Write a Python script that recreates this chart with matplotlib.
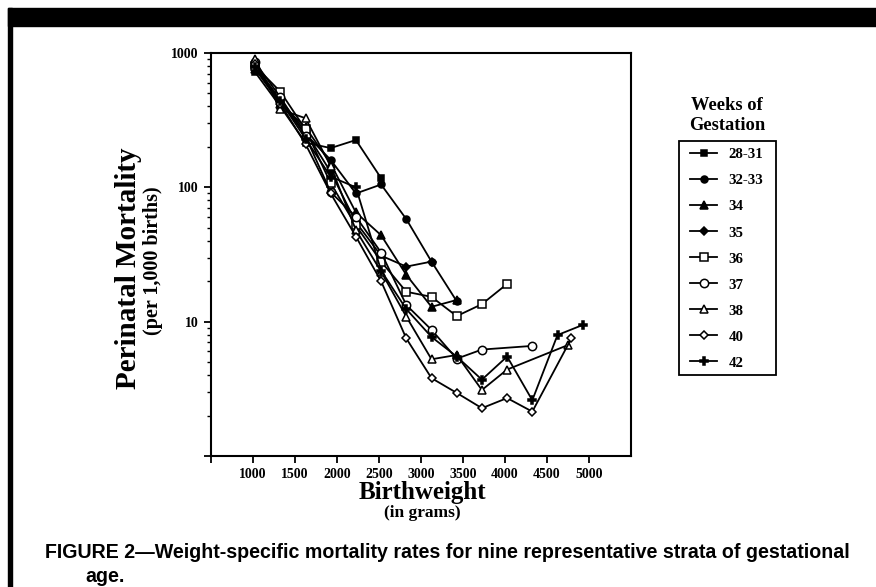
import matplotlib
matplotlib.use("Agg")
import matplotlib.pyplot as plt
from matplotlib.patches import Rectangle
from matplotlib.ticker import FixedLocator, NullFormatter

SERIF = "Liberation Serif"
SANS = "Liberation Sans"

# birthweight (g) and perinatal mortality (per 1,000 births) for each stratum
w_28_31 = [1025, 1325, 1625, 1925, 2225, 2525]
m_28_31 = [720, 400, 215, 196, 225, 117]

w_32_33 = [1025, 1325, 1625, 1925, 2225, 2525, 2825, 3125, 3425]
m_32_33 = [780, 430, 250, 160, 90, 105, 58, 28, 14.2]

w_34 = [1025, 1325, 1625, 1925, 2225, 2525, 2825, 3125, 3425]
m_34 = [760, 420, 280, 150, 65, 44, 22.3, 12.9, 14.5]

w_35 = [1025, 1325, 1625, 1925, 2225, 2525, 2825, 3125]
m_35 = [800, 450, 260, 130, 55, 31, 25.7, 28]

w_36 = [1025, 1325, 1625, 1925, 2225, 2525, 2825, 3125, 3425, 3725, 4025]
m_36 = [800, 516, 270, 107, 52, 28, 16.7, 15.3, 11.0, 13.5, 19.1]

w_37 = [1025, 1325, 1625, 1925, 2225, 2525, 2825, 3125, 3425, 3725, 4325]
m_37 = [850, 470, 240, 92, 60.5, 32.7, 13.3, 8.7, 5.3, 6.2, 6.6]

w_38 = [1025, 1325, 1625, 1925, 2225, 2525, 2825, 3125, 3425, 3725, 4025, 4750]
m_38 = [900, 380, 327, 144, 48, 23.6, 10.9, 5.25, 5.65, 3.1, 4.4, 6.7]

w_40 = [1025, 1325, 1625, 1925, 2225, 2525, 2825, 3125, 3425, 3725, 4025, 4325, 4790]
m_40 = [830, 420, 210, 90, 43, 20, 7.5, 3.8, 2.95, 2.27, 2.7, 2.14, 7.5]

w_42 = [1025, 1325, 1625, 1925, 2225, 2525, 2825, 3125, 3425, 3725, 4025, 4325, 4625, 4925]
m_42 = [780, 440, 230, 120, 100, 24, 12.4, 7.7, 5.5, 3.7, 5.5, 2.6, 7.95, 9.45]

x_ticks = [500, 1000, 1500, 2000, 2500, 3000, 3500, 4000, 4500, 5000]
x_tick_labels = ["", "1000", "1500", "2000", "2500", "3000", "3500", "4000", "4500", "5000"]
y_ticks = [1, 10, 100, 1000]
y_tick_labels = ["", "10", "100", "1000"]

STYLES = [
    ("28-31", w_28_31, m_28_31, "s", "black", 5.0),
    ("32-33", w_32_33, m_32_33, "o", "black", 5.0),
    ("34", w_34, m_34, "^", "black", 5.5),
    ("35", w_35, m_35, "D", "black", 4.0),
    ("36", w_36, m_36, "s", "white", 5.5),
    ("37", w_37, m_37, "o", "white", 6.0),
    ("38", w_38, m_38, "^", "white", 6.0),
    ("40", w_40, m_40, "D", "white", 4.5),
    ("42", w_42, m_42, "P", "black", 5.5),
]

W, H = 876, 587
fig = plt.figure(figsize=(W / 100, H / 100), dpi=100)

# page frame: black bar on top and rule down the left side
fig.patches.append(Rectangle((8 / W, 1 - 26 / H), 1 - 8 / W, 18 / H,
                             transform=fig.transFigure, color="black", zorder=0))
fig.patches.append(Rectangle((8 / W, 0), 4 / W, 1 - 8 / H,
                             transform=fig.transFigure, color="black", zorder=0))

ax = fig.add_axes([211 / W, 1 - 456 / H, 420 / W, 403 / H])

for label, xs, ys, marker, face, ms in STYLES:
    ax.plot(xs, ys, color="black", linewidth=1.3, marker=marker, markersize=ms,
            markerfacecolor=face, markeredgecolor="black", markeredgewidth=1.1,
            label=label, clip_on=False)

ax.set_yscale("log")
ax.set_ylim(1, 1000)
ax.set_xlim(500, 5500)

ax.set_xticks(x_ticks)
ax.set_xticklabels(x_tick_labels)
ax.yaxis.set_major_locator(FixedLocator(y_ticks))
ax.set_yticklabels(y_tick_labels)
minor = [m * d for d in (1, 10, 100) for m in range(2, 10)]
ax.yaxis.set_minor_locator(FixedLocator(minor))
ax.yaxis.set_minor_formatter(NullFormatter())

for lab in ax.get_xticklabels() + ax.get_yticklabels():
    lab.set_fontfamily(SERIF)
    lab.set_fontweight("bold")
    lab.set_fontsize(10)

ax.tick_params(axis="both", which="major", direction="out", length=5, width=1.3, pad=4)
ax.tick_params(axis="y", which="minor", direction="out", length=3, width=1.0)
for sp in ax.spines.values():
    sp.set_linewidth(1.5)

# axis titles
fig.text(129 / W, 1 - 268 / H, "Perinatal Mortality", rotation=90, ha="center", va="center",
         fontfamily=SERIF, fontweight="bold", fontsize=21)
fig.text(153 / W, 1 - 261 / H, "(per 1,000 births)", rotation=90, ha="center", va="center",
         fontfamily=SERIF, fontweight="bold", fontsize=14.5)
fig.text(422 / W, 1 - 492 / H, "Birthweight", ha="center", va="center",
         fontfamily=SERIF, fontweight="bold", fontsize=18)
fig.text(422 / W, 1 - 513 / H, "(in grams)", ha="center", va="center",
         fontfamily=SERIF, fontweight="bold", fontsize=12.5)

# legend: title, hand-drawn box and frameless entries
fig.text(727 / W, 1 - 105 / H, "Weeks of", ha="center", va="center",
         fontfamily=SERIF, fontweight="bold", fontsize=13.3)
fig.text(727 / W, 1 - 126 / H, "Gestation", ha="center", va="center",
         fontfamily=SERIF, fontweight="bold", fontsize=13.3)
fig.patches.append(Rectangle((679 / W, 1 - 375 / H), 97 / W, 234 / H,
                             transform=fig.transFigure, fill=False,
                             edgecolor="black", linewidth=1.3))
leg = ax.legend(loc="upper left", bbox_to_anchor=(690 / W, 1 - 148 / H),
                bbox_transform=fig.transFigure, frameon=False,
                borderaxespad=0, borderpad=0, handlelength=1.85, handletextpad=0.75,
                labelspacing=0.85, prop={"family": SERIF, "weight": "bold", "size": 10.7})

# caption
fig.text(45 / W, 1 - 553 / H,
         "FIGURE 2\u2014Weight-specific mortality rates for nine representative strata of gestational",
         ha="left", va="center", fontfamily=SANS, fontweight="bold", fontsize=14.1)
fig.text(85 / W, 1 - 577 / H, "age.", ha="left", va="center",
         fontfamily=SANS, fontweight="bold", fontsize=14.1)

fig.savefig("out.png", dpi=100)
